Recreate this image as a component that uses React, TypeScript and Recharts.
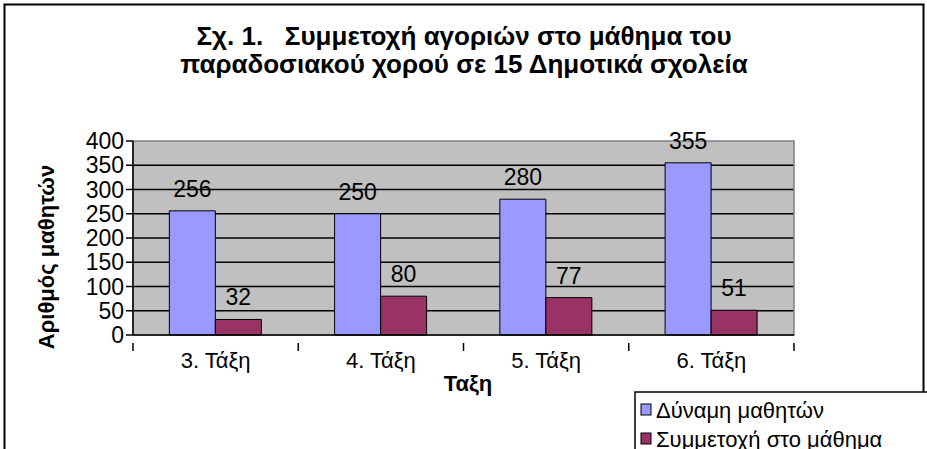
import { Bar, BarChart, CartesianGrid, LabelList, ReferenceArea, XAxis, YAxis } from 'recharts';

const categories = ['3. Τάξη', '4. Τάξη', '5. Τάξη', '6. Τάξη'];
const dynamiMathiton = [256, 250, 280, 355];
const symmetoxi = [32, 80, 77, 51];
const yTicks = [0, 50, 100, 150, 200, 250, 300, 350, 400];
const legendItems = [
  { label: 'Δύναμη μαθητών', color: '#9999FF' },
  { label: 'Συμμετοχή στο μάθημα', color: '#993366' },
];

const data = categories.map((name, i) => ({
  name,
  dynami: dynamiMathiton[i],
  symmetoxi: symmetoxi[i],
}));

const W = 927;
const H = 449;
const PLOT_LEFT = 133;
const PLOT_RIGHT = 794;
const PLOT_TOP = 141;
const PLOT_BOTTOM = 335;
const BAND = (PLOT_RIGHT - PLOT_LEFT) / categories.length;
const FONT = "'Liberation Sans', Arial, sans-serif";

function CategoryTick(props: any) {
  const { x, y, payload, index } = props;
  const left = x - BAND / 2;
  return (
    <g>
      <line x1={left} y1={y} x2={left} y2={y + 8} stroke="#000" strokeWidth={1.5} />
      {index === categories.length - 1 && (
        <line x1={x + BAND / 2} y1={y} x2={x + BAND / 2} y2={y + 8} stroke="#000" strokeWidth={1.5} />
      )}
      <text x={x} y={y + 25} textAnchor="middle" fontSize={22} fontFamily={FONT} fill="#000">
        {payload.value}
      </text>
    </g>
  );
}

export default function App() {
  return (
    <div style={{ position: 'fixed', left: 0, top: 0, width: W, height: H, overflow: 'hidden', background: '#fff' }}>
      <BarChart
        width={W}
        height={H}
        data={data}
        margin={{ top: PLOT_TOP, right: W - PLOT_RIGHT, left: 0, bottom: H - PLOT_BOTTOM - 30 }}
        barCategoryGap="22%"
        barGap={0}
        style={{ position: 'absolute', left: 0, top: 0 }}
      >
        <CartesianGrid
          vertical={false}
          horizontalValues={[50, 100, 150, 200, 250, 300, 350]}
          stroke="#000"
          strokeWidth={1.5}
          fill="#C0C0C0"
          fillOpacity={1}
        />
        <ReferenceArea y1={0} y2={400} fill="none" stroke="#808080" strokeWidth={1.5} ifOverflow="visible" />
        <YAxis
          width={PLOT_LEFT}
          domain={[0, 400]}
          ticks={yTicks}
          interval={0}
          tickSize={7}
          tickMargin={2}
          axisLine={{ stroke: '#000', strokeWidth: 1.5 }}
          tickLine={{ stroke: '#000', strokeWidth: 1.5 }}
          tick={{ fill: '#000', fontSize: 23, fontFamily: FONT }}
        />
        <XAxis
          dataKey="name"
          height={30}
          interval={0}
          tickLine={false}
          axisLine={{ stroke: '#000', strokeWidth: 1.5 }}
          tick={<CategoryTick />}
        />
        <Bar dataKey="dynami" fill="#9999FF" stroke="#000" strokeWidth={1} isAnimationActive={false}>
          <LabelList dataKey="dynami" position="top" offset={14} fill="#000" fontSize={23} fontFamily={FONT} />
        </Bar>
        <Bar dataKey="symmetoxi" fill="#993366" stroke="#000" strokeWidth={1} isAnimationActive={false}>
          <LabelList dataKey="symmetoxi" position="top" offset={14} fill="#000" fontSize={23} fontFamily={FONT} />
        </Bar>
      </BarChart>
      <svg
        width={W}
        height={H}
        style={{ position: 'absolute', left: 0, top: 0, pointerEvents: 'none' }}
        fontFamily={FONT}
      >
        <rect x={4.5} y={4.5} width={919} height={470} fill="none" stroke="#000" strokeWidth={2} />
        <text x={464} y={45} textAnchor="middle" fontSize={26} fontWeight="bold" xmlSpace="preserve">
          Σχ. 1.   Συμμετοχή αγοριών στο μάθημα του
        </text>
        <text x={464} y={73} textAnchor="middle" fontSize={26} fontWeight="bold">
          παραδοσιακού χορού σε 15 Δημοτικά σχολεία
        </text>
        <text
          x={46}
          y={257}
          transform="rotate(-90 46 257)"
          textAnchor="middle"
          dominantBaseline="central"
          fontSize={22}
          fontWeight="bold"
        >
          Αριθμός μαθητών
        </text>
        <text x={468} y={391} textAnchor="middle" fontSize={22} fontWeight="bold">
          Ταξη
        </text>
        <rect x={635} y={392} width={330} height={100} fill="#fff" stroke="#000" strokeWidth={1.5} />
        {legendItems.map((it, i) => (
          <g key={it.label}>
            <rect x={641} y={404 + i * 29} width={10} height={11} fill={it.color} stroke="#000" strokeWidth={1} />
            <text x={656} y={418 + i * 29} fontSize={22}>
              {it.label}
            </text>
          </g>
        ))}
      </svg>
    </div>
  );
}
